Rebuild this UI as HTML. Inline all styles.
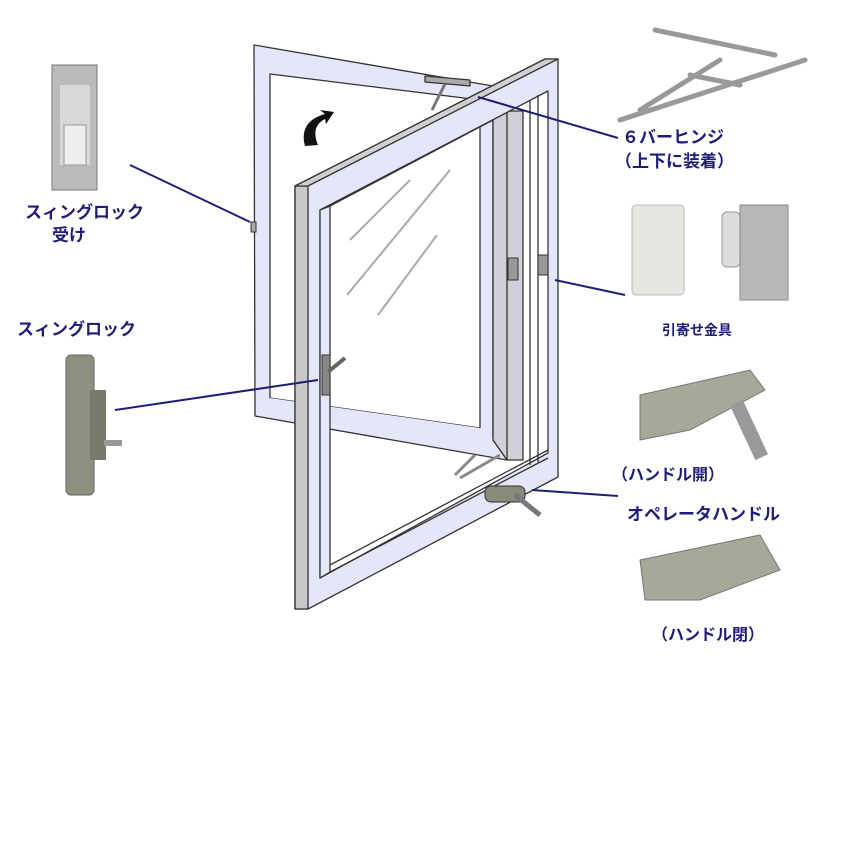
<!DOCTYPE html>
<html><head><meta charset="utf-8"><style>
html,body{margin:0;padding:0;background:#fff;}
svg{display:block}
text{font-family:"Liberation Sans","Noto Sans CJK JP",sans-serif;font-weight:bold;fill:#1e1e78;}
</style></head><body>
<svg width="866" height="843" viewBox="0 0 866 843" xmlns="http://www.w3.org/2000/svg">
<g stroke="#333" stroke-width="1.3" stroke-linejoin="round">
<!-- back sash (ring) -->
<path fill-rule="evenodd" fill="#e6e6fa" d="M254,45 L493,86 L493,440 L507,460 L255,416 Z M270,74 L480,100 L480,428 L270,398 Z"/>
<polygon points="493,118 507,111 523,111 523,460 507,460 493,440" fill="#d0d0d8"/>
<line x1="507" y1="111" x2="507" y2="460"/>
<polygon points="270,398 480,428 493,440 270,404" fill="#e6e6fa" stroke="none"/>
<!-- hinge top -->
<polygon points="425,76 470,80 470,86 425,82" fill="#aaa"/>
<line x1="445" y1="84" x2="432" y2="110" stroke="#777" stroke-width="3"/>
<!-- front frame ring -->
<path fill-rule="evenodd" fill="#e6e6fa" d="M295,186 L545,59 L558,59 L558,477 L308,609 L295,609 Z M320,210 L548,91 L548,453 L320,578 Z"/>
<polygon points="295,186 308,186 308,609 295,609" fill="#c8c8c8"/>
<polygon points="295,186 545,59 558,59 308,186" fill="#d0d0d0"/>
<polygon points="320,210 330,206 330,572 320,578" fill="#e6e6fa"/>
<line x1="330" y1="206" x2="493" y2="120"/>
<line x1="530" y1="100" x2="530" y2="465"/>
<line x1="538" y1="95" x2="538" y2="462"/>
<line x1="330" y1="565" x2="548" y2="450"/>
<line x1="330" y1="572" x2="548" y2="458"/>
</g>
<!-- glass reflections -->
<g stroke="#aaa" stroke-width="2">
<line x1="350" y1="240" x2="410" y2="180"/>
<line x1="347" y1="295" x2="450" y2="170"/>
<line x1="378" y1="315" x2="437" y2="235"/>
</g>
<!-- hardware on window -->
<rect x="508" y="258" width="10" height="22" fill="#999" stroke="#333"/>
<rect x="538" y="255" width="10" height="20" fill="#999" stroke="#333"/>
<rect x="322" y="355" width="8" height="40" fill="#888" stroke="#333"/>
<line x1="328" y1="372" x2="345" y2="358" stroke="#666" stroke-width="4"/>
<line x1="455" y1="475" x2="475" y2="455" stroke="#888" stroke-width="3"/>
<line x1="460" y1="478" x2="500" y2="455" stroke="#888" stroke-width="3"/>
<rect x="485" y="486" width="40" height="16" rx="6" fill="#8a8a7a" stroke="#333"/>
<line x1="515" y1="495" x2="540" y2="515" stroke="#777" stroke-width="5"/>
<rect x="251" y="222" width="5" height="10" fill="#aaa" stroke="#333"/>
<!-- arrow -->
<path d="M305,146 C300,128 310,118 325,114 L320,110 L334,112 L326,124 L325,119 C315,124 313,133 318,145 Z" fill="#111"/>
<!-- leader lines -->
<g stroke="#1e1e78" stroke-width="2">
<line x1="130" y1="165" x2="250" y2="222"/>
<line x1="115" y1="410" x2="318" y2="380"/>
<line x1="478" y1="97" x2="618" y2="138"/>
<line x1="555" y1="280" x2="625" y2="295"/>
<line x1="532" y1="490" x2="618" y2="496"/>
</g>
<!-- product: swing lock receiver -->
<rect x="52" y="65" width="45" height="125" fill="#bbb" stroke="#777"/>
<rect x="60" y="85" width="30" height="80" fill="#d8d8d8"/>
<rect x="64" y="125" width="22" height="40" fill="#eee" stroke="#999"/>
<!-- swing lock -->
<rect x="66" y="355" width="28" height="140" rx="5" fill="#8f8f80" stroke="#666"/>
<rect x="90" y="390" width="16" height="70" fill="#7a7a6c"/>
<rect x="104" y="440" width="18" height="6" fill="#999"/>
<!-- 6 bar hinge -->
<g stroke="#999" stroke-width="5" stroke-linecap="round">
<line x1="655" y1="30" x2="775" y2="55"/>
<line x1="620" y1="120" x2="805" y2="60"/>
<line x1="640" y1="110" x2="720" y2="60"/>
<line x1="690" y1="75" x2="740" y2="85"/>
</g>
<!-- pull hardware -->
<rect x="632" y="205" width="52" height="90" rx="4" fill="#e8e6e0" stroke="#bbb"/>
<rect x="722" y="212" width="18" height="55" rx="5" fill="#ddd" stroke="#999"/>
<rect x="740" y="205" width="48" height="95" fill="#b8b8b8" stroke="#888"/>
<!-- operator handle open -->
<path d="M640,395 L750,370 L765,390 L690,430 L640,440 Z" fill="#a8a898" stroke="#777"/>
<rect x="742" y="400" width="14" height="60" fill="#999" transform="rotate(-25 749 430)"/>
<!-- operator handle closed -->
<path d="M640,560 L760,535 L780,570 L700,600 L645,600 Z" fill="#a8a898" stroke="#777"/>
<!-- labels -->
<text x="25" y="218" font-size="17">スィングロック</text>
<text x="52" y="241" font-size="17">受け</text>
<text x="17" y="335" font-size="17">スィングロック</text>
<text x="622" y="143" font-size="17">６バーヒンジ</text>
<text x="615" y="167" font-size="17">（上下に装着）</text>
<text x="662" y="335" font-size="14">引寄せ金具</text>
<text x="612" y="480" font-size="16">（ハンドル開）</text>
<text x="627" y="520" font-size="17">オペレータハンドル</text>
<text x="652" y="640" font-size="16">（ハンドル閉）</text>
</svg>
</body></html>
